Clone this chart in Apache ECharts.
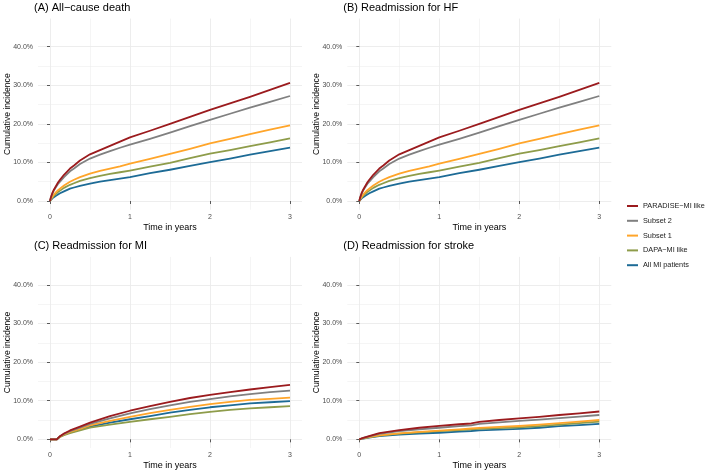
<!DOCTYPE html>
<html>
<head>
<meta charset="utf-8">
<script src="https://cdn.jsdelivr.net/npm/echarts@6/dist/echarts.min.js"></script>
<style>
html,body{margin:0;padding:0;background:#fff;}
#chart{width:709px;height:472px;}
</style>
</head>
<body>
<div id="chart"></div>
<script>
// ---- data (cumulative incidence, %) ----
const groupNames = ['PARADISE\u2212MI like', 'Subset 2', 'Subset 1', 'DAPA\u2212MI like', 'All MI patients'];
const groupColors = ['#9B1B1E', '#808080', '#FFA52A', '#8E9C4A', '#1D6B96'];
const panelTitles = ['(A) All\u2212cause death', '(B) Readmission for HF', '(C) Readmission for MI', '(D) Readmission for stroke'];
const xTickValues = [0, 1, 2, 3];
const xMinorValues = [0.5, 1.5, 2.5];
const yTickValues = [0, 10, 20, 30, 40];
const yMinorValues = [5, 15, 25, 35];

// (A) All-cause death
const timeA = [0, 0.01, 0.02, 0.03, 0.05, 0.075, 0.1, 0.125, 0.175, 0.25, 0.3, 0.375, 0.5, 0.625, 0.75, 0.875, 1, 1.25, 1.5, 1.75, 2, 2.25, 2.5, 2.75, 3];
const deathParadise = [0, 0.9, 1.5, 2.1, 3.0, 3.9, 4.8, 5.5, 6.8, 8.4, 9.2, 10.5, 12.1, 13.2, 14.3, 15.4, 16.5, 18.2, 20.0, 21.8, 23.6, 25.3, 27.0, 28.8, 30.6];
const deathSubset2  = [0, 0.8, 1.4, 1.9, 2.8, 3.6, 4.4, 5.0, 6.2, 7.7, 8.4, 9.6, 11.0, 12.0, 12.9, 13.8, 14.6, 16.1, 17.7, 19.4, 21.0, 22.6, 24.2, 25.7, 27.2];
const deathSubset1  = [0, 0.45, 0.8, 1.1, 1.7, 2.2, 2.8, 3.2, 4.0, 5.0, 5.5, 6.2, 7.1, 7.8, 8.4, 9.0, 9.7, 10.9, 12.2, 13.5, 14.9, 16.1, 17.3, 18.5, 19.6];
const deathDapa     = [0, 0.4, 0.7, 0.95, 1.4, 1.85, 2.3, 2.7, 3.4, 4.2, 4.6, 5.2, 5.9, 6.5, 7.0, 7.45, 7.9, 8.9, 9.9, 11.1, 12.3, 13.2, 14.2, 15.2, 16.2];
const deathAll      = [0, 0.3, 0.5, 0.7, 1.0, 1.35, 1.7, 2.0, 2.5, 3.2, 3.5, 3.9, 4.5, 5.0, 5.4, 5.8, 6.2, 7.2, 8.1, 9.1, 10.1, 11.0, 12.0, 12.9, 13.8];

// (B) Readmission for HF
const timeB = [0, 0.01, 0.02, 0.03, 0.05, 0.075, 0.1, 0.125, 0.175, 0.25, 0.3, 0.375, 0.5, 0.625, 0.75, 0.875, 1, 1.25, 1.5, 1.75, 2, 2.25, 2.5, 2.75, 3];
const hfParadise = [0, 0.9, 1.5, 2.1, 3.0, 3.9, 4.8, 5.5, 6.8, 8.4, 9.2, 10.5, 12.1, 13.2, 14.3, 15.4, 16.5, 18.2, 20.0, 21.8, 23.6, 25.3, 27.0, 28.8, 30.6];
const hfSubset2  = [0, 0.8, 1.4, 1.9, 2.8, 3.6, 4.4, 5.0, 6.2, 7.7, 8.4, 9.6, 11.0, 12.0, 12.9, 13.8, 14.6, 16.1, 17.7, 19.4, 21.0, 22.6, 24.2, 25.7, 27.2];
const hfSubset1  = [0, 0.45, 0.8, 1.1, 1.7, 2.2, 2.8, 3.2, 4.0, 5.0, 5.5, 6.2, 7.1, 7.8, 8.4, 9.0, 9.7, 10.9, 12.2, 13.5, 14.9, 16.1, 17.3, 18.5, 19.6];
const hfDapa     = [0, 0.4, 0.7, 0.95, 1.4, 1.85, 2.3, 2.7, 3.4, 4.2, 4.6, 5.2, 5.9, 6.5, 7.0, 7.45, 7.9, 8.9, 9.9, 11.1, 12.3, 13.2, 14.2, 15.2, 16.2];
const hfAll      = [0, 0.3, 0.5, 0.7, 1.0, 1.35, 1.7, 2.0, 2.5, 3.2, 3.5, 3.9, 4.5, 5.0, 5.4, 5.8, 6.2, 7.2, 8.1, 9.1, 10.1, 11.0, 12.0, 12.9, 13.8];

// (C) Readmission for MI
const timeC = [0, 0.085, 0.125, 0.175, 0.25, 0.375, 0.5, 0.75, 1, 1.25, 1.5, 1.75, 2, 2.25, 2.5, 2.75, 3];
const miParadise = [0, 0, 0.8, 1.5, 2.3, 3.3, 4.3, 6.0, 7.4, 8.6, 9.7, 10.7, 11.5, 12.2, 12.9, 13.5, 14.1];
const miSubset2  = [0, 0, 0.8, 1.4, 2.1, 3.0, 4.0, 5.4, 6.7, 7.8, 8.8, 9.7, 10.4, 11.1, 11.7, 12.2, 12.6];
const miSubset1  = [0, 0, 0.7, 1.3, 1.9, 2.7, 3.6, 4.8, 5.8, 6.8, 7.6, 8.4, 9.1, 9.7, 10.2, 10.5, 10.8];
const miDapa     = [0, 0, 0.6, 1.1, 1.6, 2.3, 3.0, 3.8, 4.5, 5.2, 5.8, 6.5, 7.1, 7.6, 8.0, 8.3, 8.6];
const miAll      = [0, 0, 0.7, 1.2, 1.8, 2.5, 3.3, 4.3, 5.2, 6.0, 6.9, 7.6, 8.3, 8.8, 9.3, 9.6, 9.9];

// (D) Readmission for stroke
const timeD = [0, 0.05, 0.1, 0.25, 0.5, 0.75, 1, 1.25, 1.4, 1.5, 1.75, 2, 2.25, 2.5, 2.75, 3];
const strokeParadise = [0, 0.4, 0.7, 1.6, 2.4, 3.0, 3.5, 3.9, 4.1, 4.5, 5.0, 5.4, 5.8, 6.3, 6.7, 7.2];
const strokeSubset2  = [0, 0.35, 0.6, 1.4, 2.15, 2.6, 3.0, 3.4, 3.6, 4.0, 4.4, 4.75, 5.1, 5.5, 5.9, 6.3];
const strokeSubset1  = [0, 0.3, 0.5, 1.0, 1.55, 1.95, 2.25, 2.6, 2.8, 2.95, 3.2, 3.45, 3.8, 4.2, 4.6, 5.0];
const strokeDapa     = [0, 0.25, 0.45, 0.95, 1.45, 1.8, 2.1, 2.4, 2.6, 2.7, 2.9, 3.1, 3.4, 3.8, 4.2, 4.6];
const strokeAll      = [0, 0.2, 0.4, 0.8, 1.2, 1.5, 1.7, 2.0, 2.15, 2.3, 2.5, 2.7, 3.0, 3.4, 3.7, 4.0];

const panels = [
  {time: timeA, vals: [deathParadise, deathSubset2, deathSubset1, deathDapa, deathAll]},
  {time: timeB, vals: [hfParadise, hfSubset2, hfSubset1, hfDapa, hfAll]},
  {time: timeC, vals: [miParadise, miSubset2, miSubset1, miDapa, miAll]},
  {time: timeD, vals: [strokeParadise, strokeSubset2, strokeSubset1, strokeDapa, strokeAll]}
];

// ---- layout ----
const gridBoxes = [
  {left: 38, top: 18.6, width: 264, height: 191.1},
  {left: 347.3, top: 18.6, width: 264, height: 191.1},
  {left: 38, top: 256.9, width: 264, height: 191.1},
  {left: 347.3, top: 256.9, width: 264, height: 191.1}
];
const FONT = 'Liberation Sans, Arial, Helvetica, sans-serif';
const gridColor = '#EBEBEB';

const grids = [], xAxes = [], yAxes = [], series = [], graphics = [];
gridBoxes.forEach((g, i) => {
  grids.push(Object.assign({containLabel: false, outerBoundsMode: 'none'}, g));
  xAxes.push({
    type: 'value', gridIndex: i, min: -0.15, max: 3.15,
    name: 'Time in years', nameLocation: 'middle', nameGap: 13, nameMoveOverlap: false,
    nameTextStyle: {fontFamily: FONT, fontSize: 9, color: '#000'},
    axisLine: {show: false},
    axisTick: {show: true, length: 3, customValues: xTickValues, lineStyle: {color: '#333', width: 0.8}},
    axisLabel: {show: true, customValues: xTickValues, margin: 4, fontFamily: FONT, fontSize: 7, color: '#4D4D4D',
      formatter: v => String(v)},
    splitLine: {show: true, lineStyle: {color: gridColor, width: 0.9}}
  });
  xAxes.push({
    type: 'value', gridIndex: i, min: -0.15, max: 3.15, position: 'bottom',
    axisLine: {show: false}, axisTick: {show: false, customValues: xMinorValues},
    axisLabel: {show: false, customValues: xMinorValues},
    splitLine: {show: true, lineStyle: {color: gridColor, width: 0.5}}
  });
  yAxes.push({
    type: 'value', gridIndex: i, min: -2.25, max: 47.25,
    name: 'Cumulative incidence', nameLocation: 'middle', nameGap: 26, nameRotate: 90, nameMoveOverlap: false,
    nameTextStyle: {fontFamily: FONT, fontSize: 8.6, color: '#000'},
    axisLine: {show: false},
    axisTick: {show: true, length: 3, customValues: yTickValues, lineStyle: {color: '#333', width: 0.8}},
    axisLabel: {show: true, customValues: yTickValues, margin: 5, fontFamily: FONT, fontSize: 7, color: '#4D4D4D',
      formatter: v => v.toFixed(1) + '%'},
    splitLine: {show: true, lineStyle: {color: gridColor, width: 0.9}}
  });
  yAxes.push({
    type: 'value', gridIndex: i, min: -2.25, max: 47.25, position: 'left',
    axisLine: {show: false}, axisTick: {show: false, customValues: yMinorValues},
    axisLabel: {show: false, customValues: yMinorValues},
    splitLine: {show: true, lineStyle: {color: gridColor, width: 0.5}}
  });
  const p = panels[i];
  groupNames.forEach((name, k) => {
    series.push({
      type: 'line', name: name,
      xAxisIndex: 2 * i, yAxisIndex: 2 * i,
      data: p.time.map((t, j) => [t, p.vals[k][j]]),
      showSymbol: false, symbol: 'none', smooth: false,
      lineStyle: {color: groupColors[k], width: 1.8, join: 'round'},
      itemStyle: {color: groupColors[k]},
      emphasis: {disabled: true},
      animation: false, z: 10 - k
    });
  });
  graphics.push({
    type: 'text', left: g.left - 4, top: g.top - 16,
    style: {text: panelTitles[i], fontFamily: FONT, fontSize: 11, fill: '#000'}
  });
});

const chart = echarts.init(document.getElementById('chart'), null, {renderer: 'canvas'});
chart.setOption({
  backgroundColor: '#fff',
  animation: false,
  grid: grids,
  xAxis: xAxes,
  yAxis: yAxes,
  series: series,
  graphic: graphics,
  legend: {
    show: true, orient: 'vertical', left: 627, top: 201.5, padding: 0,
    data: groupNames, icon: 'rect', itemWidth: 11, itemHeight: 2, itemGap: 5.8,
    textStyle: {fontFamily: FONT, fontSize: 7.3, color: '#1A1A1A', lineHeight: 9},
    selectedMode: false
  }
});
</script>
</body>
</html>
